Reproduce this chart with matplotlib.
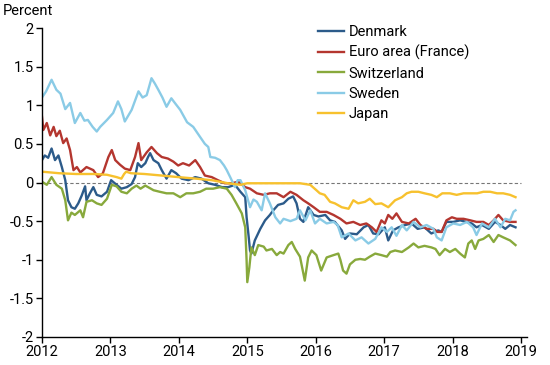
import matplotlib
matplotlib.use("Agg")
import matplotlib.pyplot as plt

plt.rcParams['font.family'] = ['Roboto', 'DejaVu Sans']

# fractional years / percent
dk_t = [2012.00, 2012.04, 2012.09, 2012.14, 2012.19, 2012.24, 2012.29, 2012.34, 2012.36, 2012.38,
        2012.43, 2012.48, 2012.53, 2012.58, 2012.63, 2012.65, 2012.70, 2012.75, 2012.80, 2012.87,
        2012.95, 2013.01, 2013.09, 2013.16, 2013.24, 2013.31, 2013.36, 2013.40, 2013.45, 2013.51,
        2013.55, 2013.58, 2013.63, 2013.70, 2013.75, 2013.82, 2013.89, 2013.96, 2014.04, 2014.14,
        2014.24, 2014.33, 2014.43, 2014.53, 2014.63, 2014.72, 2014.82, 2014.90, 2014.97, 2014.99,
        2015.02, 2015.04, 2015.06, 2015.11, 2015.19, 2015.26, 2015.33, 2015.38, 2015.45, 2015.53,
        2015.60, 2015.67, 2015.72, 2015.77, 2015.82, 2015.89, 2015.97, 2016.04, 2016.14, 2016.21,
        2016.28, 2016.38, 2016.43, 2016.50, 2016.60, 2016.70, 2016.77, 2016.84, 2016.92, 2017.01,
        2017.06, 2017.13, 2017.21, 2017.31, 2017.40, 2017.49, 2017.59, 2017.69, 2017.79, 2017.84,
        2017.91, 2018.01, 2018.11, 2018.20, 2018.28, 2018.35, 2018.43, 2018.53, 2018.62, 2018.70,
        2018.77, 2018.84, 2018.92]
dk_v = [0.29, 0.35, 0.32, 0.44, 0.29, 0.35, 0.20, 0.03, -0.10, -0.23,
        -0.32, -0.34, -0.27, -0.17, -0.05, -0.23, -0.14, -0.06, -0.16, -0.18,
        -0.12, 0.03, -0.03, -0.08, -0.06, -0.02, 0.07, 0.25, 0.20, 0.25,
        0.33, 0.38, 0.29, 0.25, 0.16, 0.05, 0.16, 0.12, 0.05, 0.03,
        0.07, 0.05, -0.01, -0.03, -0.06, -0.06, -0.03, -0.12, -0.19, -0.45,
        -0.70, -0.88, -0.92, -0.75, -0.60, -0.49, -0.42, -0.36, -0.29, -0.27,
        -0.21, -0.18, -0.27, -0.47, -0.51, -0.32, -0.42, -0.44, -0.42, -0.49,
        -0.51, -0.62, -0.73, -0.66, -0.67, -0.58, -0.55, -0.66, -0.67, -0.58,
        -0.75, -0.62, -0.58, -0.55, -0.53, -0.60, -0.58, -0.66, -0.62, -0.64,
        -0.51, -0.51, -0.49, -0.51, -0.53, -0.58, -0.55, -0.60, -0.51, -0.55,
        -0.60, -0.55, -0.58]

fr_t = [2012.00, 2012.02, 2012.07, 2012.12, 2012.17, 2012.21, 2012.26, 2012.31, 2012.36, 2012.41,
        2012.46, 2012.51, 2012.56, 2012.65, 2012.75, 2012.82, 2012.89, 2012.97, 2013.02, 2013.07,
        2013.14, 2013.21, 2013.29, 2013.36, 2013.41, 2013.45, 2013.53, 2013.60, 2013.68, 2013.75,
        2013.84, 2013.92, 2013.99, 2014.06, 2014.15, 2014.24, 2014.31, 2014.38, 2014.48, 2014.57,
        2014.67, 2014.77, 2014.87, 2014.97, 2015.04, 2015.14, 2015.24, 2015.33, 2015.43, 2015.53,
        2015.63, 2015.72, 2015.82, 2015.89, 2015.97, 2016.06, 2016.16, 2016.26, 2016.36, 2016.45,
        2016.55, 2016.65, 2016.74, 2016.82, 2016.89, 2016.96, 2017.01, 2017.06, 2017.12, 2017.18,
        2017.26, 2017.36, 2017.46, 2017.53, 2017.62, 2017.72, 2017.78, 2017.84, 2017.91, 2017.99,
        2018.06, 2018.16, 2018.26, 2018.35, 2018.45, 2018.53, 2018.60, 2018.67, 2018.74, 2018.84,
        2018.92]
fr_v = [0.85, 0.68, 0.77, 0.61, 0.72, 0.60, 0.67, 0.51, 0.57, 0.42,
        0.16, 0.20, 0.13, 0.20, 0.16, 0.07, 0.12, 0.33, 0.42, 0.29,
        0.23, 0.18, 0.16, 0.33, 0.51, 0.29, 0.39, 0.46, 0.38, 0.33,
        0.31, 0.27, 0.22, 0.25, 0.22, 0.29, 0.20, 0.09, 0.07, 0.03,
        -0.01, -0.01, 0.01, -0.06, -0.08, -0.14, -0.16, -0.14, -0.14, -0.19,
        -0.12, -0.16, -0.23, -0.27, -0.32, -0.38, -0.38, -0.42, -0.47, -0.53,
        -0.51, -0.55, -0.53, -0.58, -0.64, -0.49, -0.53, -0.42, -0.47, -0.40,
        -0.51, -0.53, -0.47, -0.55, -0.60, -0.60, -0.64, -0.64, -0.49, -0.45,
        -0.47, -0.47, -0.49, -0.51, -0.51, -0.55, -0.49, -0.42, -0.49, -0.51,
        -0.51]

ch_t = [2012.00, 2012.07, 2012.14, 2012.21, 2012.29, 2012.34, 2012.38, 2012.43, 2012.48, 2012.56,
        2012.60, 2012.65, 2012.73, 2012.80, 2012.87, 2012.95, 2013.02, 2013.09, 2013.16, 2013.24,
        2013.31, 2013.38, 2013.44, 2013.51, 2013.63, 2013.72, 2013.82, 2013.92, 2014.02, 2014.11,
        2014.21, 2014.31, 2014.40, 2014.50, 2014.60, 2014.70, 2014.77, 2014.84, 2014.92, 2014.97,
        2014.99, 2015.00, 2015.03, 2015.06, 2015.11, 2015.16, 2015.24, 2015.28, 2015.36, 2015.43,
        2015.48, 2015.53, 2015.60, 2015.65, 2015.70, 2015.77, 2015.82, 2015.84, 2015.89, 2015.94,
        2016.01, 2016.08, 2016.16, 2016.26, 2016.33, 2016.36, 2016.40, 2016.45, 2016.50, 2016.58,
        2016.65, 2016.72, 2016.79, 2016.87, 2016.96, 2017.04, 2017.09, 2017.16, 2017.26, 2017.36,
        2017.43, 2017.50, 2017.59, 2017.69, 2017.75, 2017.81, 2017.89, 2017.96, 2018.04, 2018.11,
        2018.18, 2018.23, 2018.28, 2018.33, 2018.38, 2018.45, 2018.53, 2018.60, 2018.67, 2018.74,
        2018.84, 2018.92]
ch_v = [0.01, -0.03, 0.07, -0.03, -0.08, -0.23, -0.49, -0.39, -0.42, -0.36,
        -0.45, -0.25, -0.23, -0.27, -0.29, -0.21, -0.03, -0.05, -0.12, -0.14,
        -0.08, -0.04, -0.08, -0.04, -0.10, -0.12, -0.14, -0.14, -0.19, -0.14,
        -0.14, -0.12, -0.08, -0.08, -0.06, -0.08, -0.16, -0.27, -0.40, -0.58,
        -1.01, -1.29, -1.10, -0.84, -0.94, -0.81, -0.83, -0.88, -0.86, -0.94,
        -0.90, -0.92, -0.81, -0.77, -0.86, -0.96, -1.18, -1.27, -0.97, -0.88,
        -0.94, -1.14, -0.97, -0.94, -0.92, -1.00, -1.14, -1.18, -1.06, -1.00,
        -0.99, -1.00, -0.96, -0.92, -0.94, -0.96, -0.90, -0.88, -0.90, -0.84,
        -0.79, -0.84, -0.82, -0.84, -0.86, -0.94, -0.86, -0.90, -0.86, -0.92,
        -0.97, -0.79, -0.75, -0.86, -0.75, -0.73, -0.68, -0.77, -0.68, -0.71,
        -0.75, -0.81]

se_t = [2012.00, 2012.06, 2012.14, 2012.21, 2012.27, 2012.34, 2012.41, 2012.48, 2012.56, 2012.62,
        2012.67, 2012.74, 2012.80, 2012.85, 2012.95, 2013.04, 2013.11, 2013.16, 2013.21, 2013.31,
        2013.41, 2013.47, 2013.53, 2013.60, 2013.65, 2013.70, 2013.76, 2013.82, 2013.89, 2013.95,
        2014.02, 2014.12, 2014.21, 2014.31, 2014.38, 2014.43, 2014.46, 2014.53, 2014.60, 2014.66,
        2014.70, 2014.75, 2014.82, 2014.86, 2014.90, 2014.97, 2015.04, 2015.09, 2015.14, 2015.21,
        2015.26, 2015.33, 2015.41, 2015.48, 2015.53, 2015.63, 2015.72, 2015.77, 2015.85, 2015.92,
        2015.99, 2016.06, 2016.16, 2016.26, 2016.32, 2016.38, 2016.48, 2016.58, 2016.67, 2016.77,
        2016.87, 2016.96, 2017.04, 2017.11, 2017.18, 2017.26, 2017.33, 2017.43, 2017.53, 2017.62,
        2017.72, 2017.77, 2017.84, 2017.91, 2018.01, 2018.11, 2018.21, 2018.30, 2018.35, 2018.43,
        2018.53, 2018.62, 2018.70, 2018.77, 2018.84, 2018.89, 2018.92]
se_v = [1.10, 1.18, 1.33, 1.20, 1.15, 0.95, 1.03, 0.77, 0.90, 0.80,
        0.81, 0.72, 0.66, 0.72, 0.81, 0.90, 1.05, 0.95, 0.79, 0.94,
        1.18, 1.10, 1.13, 1.35, 1.28, 1.20, 1.10, 0.98, 1.09, 1.02,
        0.94, 0.78, 0.72, 0.59, 0.50, 0.46, 0.33, 0.32, 0.29, 0.22,
        0.16, 0.07, -0.06, 0.03, 0.03, -0.10, -0.32, -0.22, -0.25, -0.36,
        -0.14, -0.27, -0.45, -0.53, -0.47, -0.50, -0.47, -0.36, -0.49, -0.36,
        -0.53, -0.47, -0.53, -0.51, -0.55, -0.71, -0.66, -0.75, -0.71, -0.79,
        -0.73, -0.58, -0.64, -0.58, -0.69, -0.55, -0.62, -0.51, -0.58, -0.55,
        -0.60, -0.71, -0.75, -0.58, -0.53, -0.55, -0.51, -0.58, -0.68, -0.53,
        -0.58, -0.47, -0.58, -0.47, -0.49, -0.38, -0.36]

jp_t = [2012.00, 2012.25, 2012.50, 2012.75, 2012.95, 2013.09, 2013.16, 2013.20, 2013.23, 2013.30,
        2013.50, 2013.75, 2013.99, 2014.25, 2014.48, 2014.72, 2014.90, 2015.00, 2015.40, 2015.77,
        2015.92, 2016.01, 2016.06, 2016.13, 2016.21, 2016.28, 2016.38, 2016.48, 2016.55, 2016.62,
        2016.72, 2016.79, 2016.87, 2016.96, 2017.06, 2017.16, 2017.26, 2017.33, 2017.40, 2017.50,
        2017.59, 2017.69, 2017.77, 2017.85, 2017.96, 2018.06, 2018.16, 2018.36, 2018.45, 2018.55,
        2018.65, 2018.74, 2018.84, 2018.92]
jp_v = [0.14, 0.12, 0.11, 0.11, 0.10, 0.07, 0.05, 0.11, 0.14, 0.12,
        0.11, 0.09, 0.07, 0.05, 0.03, -0.01, -0.03, -0.01, -0.01, -0.01,
        -0.03, -0.10, -0.14, -0.16, -0.25, -0.27, -0.32, -0.34, -0.23, -0.27,
        -0.25, -0.21, -0.28, -0.27, -0.32, -0.23, -0.19, -0.14, -0.12, -0.12,
        -0.14, -0.16, -0.19, -0.14, -0.14, -0.16, -0.14, -0.14, -0.12, -0.12,
        -0.14, -0.14, -0.16, -0.19]

names = ['Denmark', 'Euro area (France)', 'Switzerland', 'Sweden', 'Japan']
colors = ['#2c5b8a', '#b4362f', '#88a93c', '#8acbe6', '#f7c12e']
xs = [dk_t, fr_t, ch_t, se_t, jp_t]
ys = [dk_v, fr_v, ch_v, se_v, jp_v]
years = [2012, 2013, 2014, 2015, 2016, 2017, 2018, 2019]
yticks = [-2, -1.5, -1, -0.5, 0, 0.5, 1, 1.5, 2]

fig = plt.figure(figsize=(5.5, 3.65), dpi=100)
ax = fig.add_axes([42/550, 1-337/365, (527-42)/550, (337-28)/365])

ax.hlines(0, 2012, 2019, color='#777777', lw=0.8, ls=(0, (3, 2)), zorder=1)
for x, y, c, n in zip(xs, ys, colors, names):
    ax.plot(x, y, color=c, lw=1.7, label=n, zorder=2)

ax.set_xlim(2012, 2019 + 6/68.4)
ax.set_ylim(-2, 2)
ax.set_xticks(years)
ax.set_xticklabels([str(y) for y in years])
ax.set_yticks(yticks)
ax.set_yticklabels(['%g' % v for v in yticks])
ax.tick_params(labelsize=10.5, direction='out', length=4, width=1, colors='black', pad=2)
for s in ['top', 'right']:
    ax.spines[s].set_visible(False)
for s in ['left', 'bottom']:
    ax.spines[s].set_linewidth(1)

fig.text(3/550, 1-11/365, 'Percent', fontsize=10.5, va='center', ha='left')

fig.legend(loc='upper left', bbox_to_anchor=(318/550, 1-25/365), frameon=False,
           fontsize=10.5, handlelength=1.8, handletextpad=0.3, labelspacing=0.42,
           borderpad=0, borderaxespad=0)

fig.savefig('out.png', dpi=100)
